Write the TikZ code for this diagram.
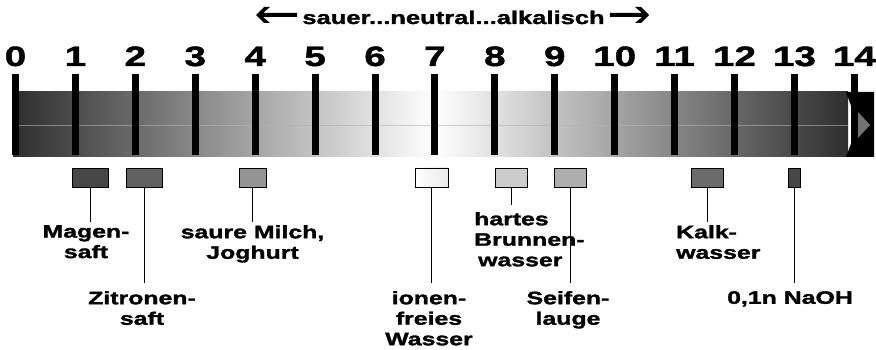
\documentclass[tikz,border=0pt]{standalone}
\usepackage{fontspec}
\newfontfamily\hvb[FakeStretch=1.38, FakeBold=1.6]{Liberation Sans Bold}
\usetikzlibrary{arrows.meta}
\tikzset{
  lab/.style={font=\hvb\fontsize{18}{20.5}\selectfont, inner xsep=0pt, align=center},
  num/.style={font=\hvb\fontsize{28}{30}\selectfont, inner sep=0pt, anchor=base},
  sample/.style={draw=black, line width=0.8pt, inner sep=0pt, minimum height=19pt},
  lead/.style={line width=1pt, black},
  tickmark/.style={fill=black}
}
\begin{document}
\begin{tikzpicture}[x=1pt,y=-1pt]
\useasboundingbox (0,0) rectangle (876,350);
% title
\node[font=\hvb\fontsize{18.5}{20}\selectfont, inner xsep=5pt, inner ysep=0pt, anchor=base] (title) at (453.5,24) {sauer...neutral...alkalisch};
\coordinate (la) at (256,15);
\coordinate (ra) at (649,15);
\fill[black] (la) -- ++(8,-8) -- ++(6,0) -- ++(-7,6)
  -- ([yshift=2pt]title.west |- la) -- ([yshift=-2pt]title.west |- la)
  -- ([xshift=7pt,yshift=-2pt]la) -- ++(7,6) -- ++(-6,0) -- cycle;
\fill[black] (ra) -- ++(-8,-8) -- ++(-6,0) -- ++(7,6)
  -- ([yshift=2pt]title.east |- ra) -- ([yshift=-2pt]title.east |- ra)
  -- ([xshift=-7pt,yshift=-2pt]ra) -- ++(-7,6) -- ++(6,0) -- cycle;
% bar
\shade[left color=black!82, right color=white] (13,92) rectangle (435,157);
\shade[left color=white, right color=black!82] (435,92) rectangle (848,157);
\draw[black!30, line width=0.5pt, opacity=0.6] (13,125) -- (848,125);
\fill[black] (846,92) -- (874,92) -- (874,157) -- (846,157) -- (858,125) -- cycle;
\fill[black!55] (858,112) -- (870,125) -- (858,138) -- cycle;
% ticks and numbers
\foreach \i in {0,...,14} {
  \fill[tickmark] ({15.5+59.92*\i-3.5},74) rectangle ({15.5+59.92*\i+3.5},155);
  \node[num] (n\i) at ({15.5+59.92*\i},66) {\i};
}
% sample boxes
\node[sample, fill=black!72, minimum width=36pt] (b1) at (90,177.5) {};
\node[sample, fill=black!62, minimum width=36pt] (b2) at (144,177.5) {};
\node[sample, fill=black!42, minimum width=27pt] (b3) at (252.5,177.5) {};
\node[sample, left color=white, right color=black!8, minimum width=33pt] (b4) at (431.5,177.5) {};
\node[sample, fill=black!20, minimum width=32pt] (b5) at (511,177.5) {};
\node[sample, fill=black!32, minimum width=32pt] (b6) at (570,177.5) {};
\node[sample, fill=black!58, minimum width=32pt] (b7) at (707,177.5) {};
\node[sample, fill=black!72, minimum width=12pt] (b8) at (794,177.5) {};
% labels
\node[lab, inner ysep=3pt, anchor=north] (l1) at (86,222) {Magen-\\saft};
\node[lab, inner ysep=8pt, anchor=north] (l2) at (142,283) {Zitronen-\\saft};
\node[lab, inner ysep=3pt, anchor=north] (l3) at (252.5,222) {saure Milch,\\Joghurt};
\node[lab, inner ysep=8pt, anchor=north] (l4) at (429,283) {ionen-\\freies\\Wasser};
\node[lab, align=left, inner ysep=7pt, anchor=north west] (l5) at (474,205) {hartes\\Brunnen-\\\hspace*{4pt}wasser};
\node[lab, inner ysep=8pt, anchor=north] (l6) at (568,283) {Seifen-\\lauge};
\node[lab, align=left, inner ysep=3pt, anchor=north west] (l7) at (676,222) {Kalk-\\wasser};
\node[lab, inner ysep=8pt, anchor=north] (l8) at (790,283) {0,1n NaOH};
% leaders
\draw[lead] (b1.south) -- (b1.south |- l1.north);
\draw[lead] (b2.south) -- (b2.south |- l2.north);
\draw[lead] (b3.south) -- (b3.south |- l3.north);
\draw[lead] (b4.south) -- (b4.south |- l4.north);
\draw[lead] (b5.south) -- (b5.south |- l5.north);
\draw[lead] (b6.south) -- (b6.south |- l6.north);
\draw[lead] (b7.south) -- (b7.south |- l7.north);
\draw[lead] (b8.south) -- (b8.south |- l8.north);
\end{tikzpicture}
\end{document}
